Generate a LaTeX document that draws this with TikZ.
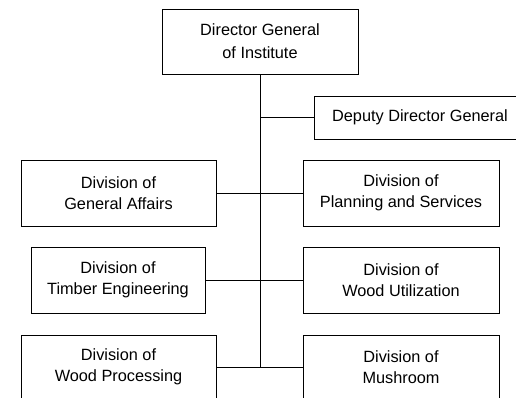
\documentclass[tikz,border=0pt]{standalone}
\usepackage{fontspec}
\setmainfont{Liberation Sans}
\begin{document}
\begin{tikzpicture}[x=1pt,y=-1pt,
  unit/.style={draw=black, line width=0.9pt, align=center, inner sep=0pt,
    font=\fontsize{16.3}{21}\selectfont, text=black},
  link/.style={draw=black, line width=0.9pt}]
  \useasboundingbox (0,0) rectangle (516,398);
  \clip (0,0) rectangle (516,398);

  % top of the hierarchy
  \node[unit, minimum width=196pt, minimum height=65pt] (dg) at (260,41.5)
    {Director General\\[2pt]of Institute};
  \node[unit, minimum width=212pt, minimum height=43pt] (ddg) at (420,117.5)
    {Deputy Director General};

  % divisions, left column
  \node[unit, minimum width=195pt, minimum height=66pt] (ga) at (118.5,193)
    {Division of\\General Affairs};
  \node[unit, minimum width=174pt, minimum height=66pt] (te) at (118,280)
    {Division of\\Timber Engineering};
  \node[unit, minimum width=195pt, minimum height=64pt] (wp) at (118.5,367)
    {Division of\\Wood Processing};

  % divisions, right column
  \node[unit, minimum width=196pt, minimum height=66pt] (ps) at (401,193)
    {Division of\\Planning and Services};
  \node[unit, minimum width=196pt, minimum height=66pt] (wu) at (401,280)
    {Division of\\Wood Utilization};
  \node[unit, minimum width=196pt, minimum height=64pt] (mu) at (401,367)
    {Division of\\Mushroom};

  % trunk line and branches
  \coordinate (trunkend) at (260,367);
  \draw[link] (dg.south) -- (trunkend);
  \draw[link] (ddg.west) -- (ddg.west -| dg.south);
  \draw[link] (ga.east) -- (ps.west);
  \draw[link] (te.east) -- (wu.west);
  \draw[link] (wp.east) -- (mu.west);
\end{tikzpicture}
\end{document}
